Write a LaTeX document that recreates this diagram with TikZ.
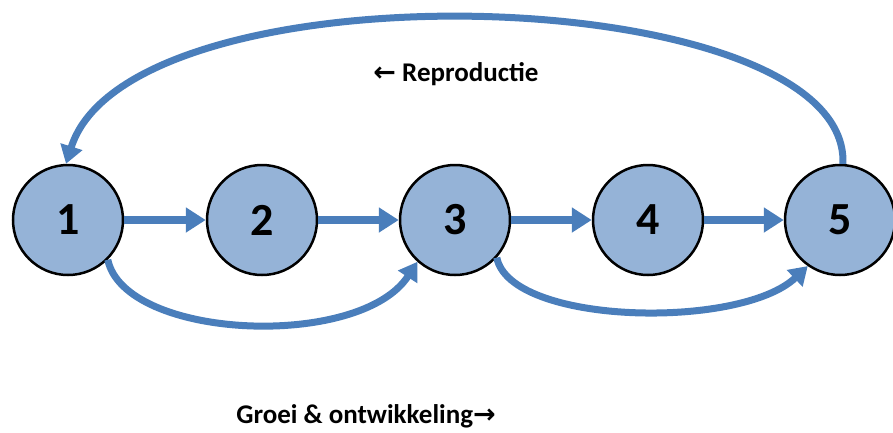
\documentclass[tikz,border=0pt]{standalone}
\usepackage{fontspec}
\setmainfont{Carlito}
\newfontfamily\arrfont{DejaVu Sans}
\usetikzlibrary{arrows.meta}
\definecolor{linkblue}{HTML}{4A7EBB}
\definecolor{nodefill}{HTML}{95B3D7}
\begin{document}
\begin{tikzpicture}[x=1pt,y=-1pt,
  stage/.style={circle,draw=black,line width=2.5pt,fill=nodefill,minimum size=110pt,inner sep=0pt,
    font=\fontsize{46}{46}\selectfont\bfseries},
  link/.style={draw=linkblue,line width=8pt,-{Triangle[length=20pt,width=24pt]}},
  curvelink/.style={draw=linkblue,line width=7pt,-{Triangle[length=18pt,width=22pt]}},
  lbl/.style={font=\fontsize{27}{27}\selectfont\bfseries,inner sep=0pt}]
\useasboundingbox (0,0) rectangle (893,432);
\node[stage] (n1) at (68,220) {1};
\node[stage] (n2) at (262,220) {2};
\node[stage] (n3) at (455,220) {3};
\node[stage] (n4) at (648,220) {4};
\node[stage] (n5) at (840,220) {5};
\draw[link] (n1) -- (n2);
\draw[link] (n2) -- (n3);
\draw[link] (n3) -- (n4);
\draw[link] (n4) -- (n5);
\draw[curvelink] (n5.87) .. controls (850,-20) and (130,-40) .. (n1.92);
\draw[curvelink] (n1.-45) .. controls (125,340) and (360,350) .. (n3.-132);
\draw[curvelink] (n3.-42) .. controls (510,325) and (740,330) .. (n5.-125);
\node[lbl] (rep) at (456,74) {{\arrfont ←} Reproductie};
\node[lbl] (groei) at (366,416) {Groei \& ontwikkeling{\arrfont →}};
\end{tikzpicture}
\end{document}
